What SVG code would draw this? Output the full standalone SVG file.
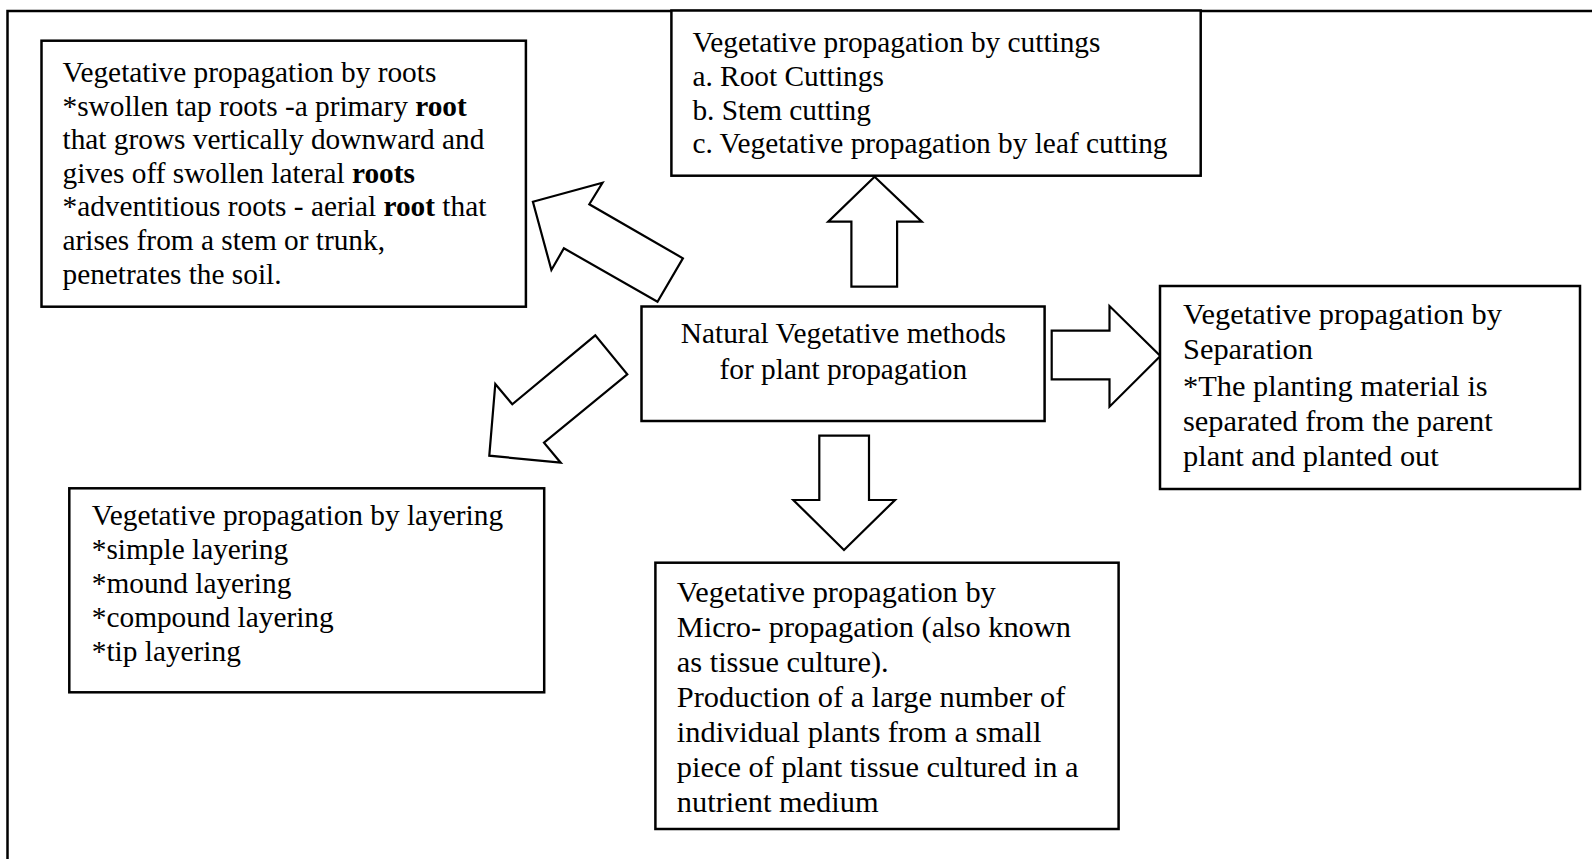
<svg xmlns="http://www.w3.org/2000/svg" width="1592" height="859" viewBox="0 0 1592 859">
<style>
.box{fill:#fff;stroke:#000;stroke-width:2.5}
.arr{fill:#fff;stroke:#000;stroke-width:2.2;stroke-linejoin:miter}
.frame{fill:none;stroke:#000;stroke-width:2.5}
text{font-family:"Liberation Serif","Times New Roman",serif;font-size:29.33px;fill:#000}
.lg{font-size:30.4px}
.b{font-weight:bold}
</style>
<rect width="1592" height="859" fill="#fff"/>
<path class="frame" d="M7.5,870 V11 H1600"/>
<g id="connectors">
<polygon class="arr" points="874.6,176.7 921.8,221.7 897.1,221.7 897.1,286.7 851.4,286.7 851.4,221.7 828.2,221.7"/>
<polygon class="arr" points="1160.4,356 1109.5,406.7 1109.5,379.3 1051.7,379.3 1051.7,330.7 1109.5,330.7 1109.5,306"/>
<polygon class="arr" points="844,550 895,500 869,500 869,435.7 819.3,435.7 819.3,500 793.3,500"/>
<polygon class="arr" points="532.9,201.7 602.5,182.7 589.3,204.3 682.9,258.3 657.5,301.7 563.9,248.3 551.4,270"/>
<polygon class="arr" points="489.3,455.7 495.3,384 512.3,404.3 595.3,335.3 627.3,374.3 544,442.7 560.7,462.7"/>
</g>
<g id="roots">
<rect class="box" x="41.5" y="40.7" width="484.4" height="266"/>
<text x="62.5" y="82">Vegetative propagation by roots</text>
<text x="62.5" y="115.6">*swollen tap roots -a primary <tspan class="b">root</tspan></text>
<text x="62.5" y="149.2">that grows vertically downward and</text>
<text x="62.5" y="182.8">gives off swollen lateral <tspan class="b">roots</tspan></text>
<text x="62.5" y="216.4">*adventitious roots - aerial <tspan class="b">root</tspan> that</text>
<text x="62.5" y="250">arises from a stem or trunk,</text>
<text x="62.5" y="283.6">penetrates the soil.</text>
</g>
<g id="cuttings">
<rect class="box" x="671.4" y="10.5" width="529.3" height="165.2"/>
<text x="692.4" y="52.3">Vegetative propagation by cuttings</text>
<text x="692.4" y="86">a. Root Cuttings</text>
<text x="692.4" y="119.7">b. Stem cutting</text>
<text x="692.4" y="153.4">c. Vegetative propagation by leaf cutting</text>
</g>
<g id="center">
<rect class="box" x="641.5" y="306.5" width="403.1" height="114.5"/>
<text x="843.4" y="342.5" text-anchor="middle">Natural Vegetative methods</text>
<text x="843.4" y="379" text-anchor="middle">for plant propagation</text>
</g>
<g id="separation">
<rect class="box" x="1160" y="286" width="420" height="203"/>
<text class="lg" x="1183" y="324">Vegetative propagation by</text>
<text class="lg" x="1183" y="359">Separation</text>
<text class="lg" x="1183" y="396">*The planting material is</text>
<text class="lg" x="1183" y="431">separated from the parent</text>
<text class="lg" x="1183" y="466">plant and planted out</text>
</g>
<g id="layering">
<rect class="box" x="69.3" y="488.3" width="474.9" height="204"/>
<text x="91.8" y="525">Vegetative propagation by layering</text>
<text x="91.8" y="559">*simple layering</text>
<text x="91.8" y="593">*mound layering</text>
<text x="91.8" y="627">*compound layering</text>
<text x="91.8" y="661">*tip layering</text>
</g>
<g id="micro">
<rect class="box" x="655.4" y="562.7" width="463.2" height="266.3"/>
<text class="lg" x="676.8" y="602">Vegetative propagation by</text>
<text class="lg" x="676.8" y="637">Micro- propagation (also known</text>
<text class="lg" x="676.8" y="672">as tissue culture).</text>
<text class="lg" x="676.8" y="707">Production of a large number of</text>
<text class="lg" x="676.8" y="742">individual plants from a small</text>
<text class="lg" x="676.8" y="777">piece of plant tissue cultured in a</text>
<text class="lg" x="676.8" y="812">nutrient medium</text>
</g>
</svg>
